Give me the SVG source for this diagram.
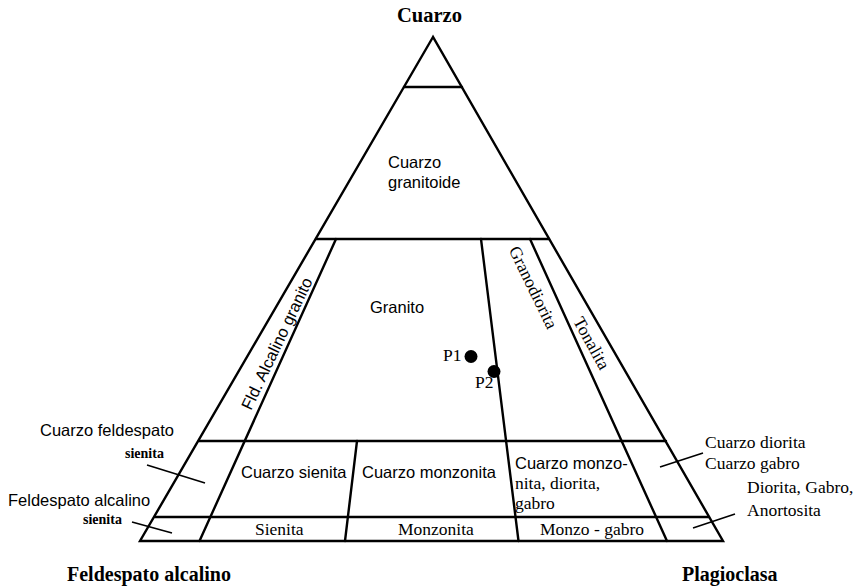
<svg xmlns="http://www.w3.org/2000/svg" width="859" height="588" viewBox="0 0 859 588">
<style>
.ln{stroke:#000;stroke-width:2.4;fill:none;stroke-linecap:round}
.ld{stroke:#000;stroke-width:1.6;fill:none}
.s{font-family:"Liberation Sans",Arial,sans-serif;font-size:16.5px;fill:#000}
.t{font-family:"Liberation Serif","Times New Roman",serif;font-size:17.5px;fill:#000}
.b{font-family:"Liberation Serif","Times New Roman",serif;font-weight:bold;font-size:20px;fill:#000}
.sm{font-family:"Liberation Serif","Times New Roman",serif;font-weight:bold;font-size:14px;fill:#000}
</style>
<rect width="859" height="588" fill="#fff"/>
<g id="connectors">
<polygon class="ln" points="433,37 140,541 723,541" stroke-linejoin="miter"/>
<line class="ln" x1="404" y1="87" x2="462" y2="87"/>
<line class="ln" x1="316" y1="239" x2="549" y2="239"/>
<line class="ln" x1="199" y1="441" x2="666" y2="441"/>
<line class="ln" x1="155" y1="517" x2="709" y2="517"/>
<line class="ln" x1="336" y1="239" x2="199.5" y2="541"/>
<line class="ln" x1="481" y1="239" x2="518.5" y2="541"/>
<line class="ln" x1="530" y1="239" x2="667" y2="541"/>
<line class="ln" x1="357" y1="441" x2="345" y2="541"/>
<line class="ld" x1="147" y1="465" x2="205" y2="483"/>
<line class="ld" x1="132" y1="522" x2="172" y2="533"/>
<line class="ld" x1="660" y1="467" x2="703" y2="453"/>
<line class="ld" x1="693" y1="528" x2="735" y2="514"/>
</g>
<g id="apex-cuarzo"><text class="b" x="397" y="21.5" textLength="65" lengthAdjust="spacingAndGlyphs">Cuarzo</text></g>
<g id="apex-feldespato"><text class="b" x="67" y="581">Feldespato alcalino</text></g>
<g id="apex-plagioclasa"><text class="b" x="682" y="581">Plagioclasa</text></g>
<g id="cuarzo-granitoide"><text class="s" x="388" y="168">Cuarzo</text><text class="s" x="388" y="188">granitoide</text></g>
<g id="granito"><text class="s" x="370" y="313">Granito</text></g>
<g id="fld-alcalino-granito"><text class="s" text-anchor="middle" transform="translate(282,346) rotate(-64.6)">Fld. Alcalino granito</text></g>
<g id="granodiorita"><text class="t" text-anchor="middle" transform="translate(528,290) rotate(64)">Granodiorita</text></g>
<g id="tonalita"><text class="t" text-anchor="middle" transform="translate(586.5,346) rotate(61)">Tonalita</text></g>
<g id="p1"><circle cx="471" cy="356.5" r="6.5"/><text class="t" x="443" y="361" font-size="15">P1</text></g>
<g id="p2"><circle cx="494" cy="371.5" r="6.5"/><text class="t" x="475" y="388" font-size="15">P2</text></g>
<g id="cuarzo-feldespato-sienita"><text class="s" x="40" y="436" font-size="16">Cuarzo feldespato</text><text class="sm" x="125" y="458">sienita</text></g>
<g id="feldespato-alcalino-sienita"><text class="s" x="8" y="506" font-size="16">Feldespato alcalino</text><text class="sm" x="83" y="524">sienita</text></g>
<g id="cuarzo-sienita"><text class="s" x="241" y="478">Cuarzo sienita</text></g>
<g id="cuarzo-monzonita"><text class="s" x="362" y="478">Cuarzo monzonita</text></g>
<g id="cuarzo-monzonita-diorita-gabro"><text class="s" x="515" y="469">Cuarzo monzo-</text><text class="t" x="515" y="489">nita, diorita,</text><text class="t" x="515" y="509">gabro</text></g>
<g id="cuarzo-diorita"><text class="t" x="705" y="448">Cuarzo diorita</text><text class="t" x="705" y="469">Cuarzo gabro</text></g>
<g id="diorita-gabro"><text class="t" x="747" y="493">Diorita, Gabro,</text><text class="t" x="747" y="516">Anortosita</text></g>
<g id="sienita"><text class="t" x="255" y="535">Sienita</text></g>
<g id="monzonita"><text class="t" x="398" y="535">Monzonita</text></g>
<g id="monzo-gabro"><text class="t" x="540" y="535">Monzo - gabro</text></g>
</svg>
